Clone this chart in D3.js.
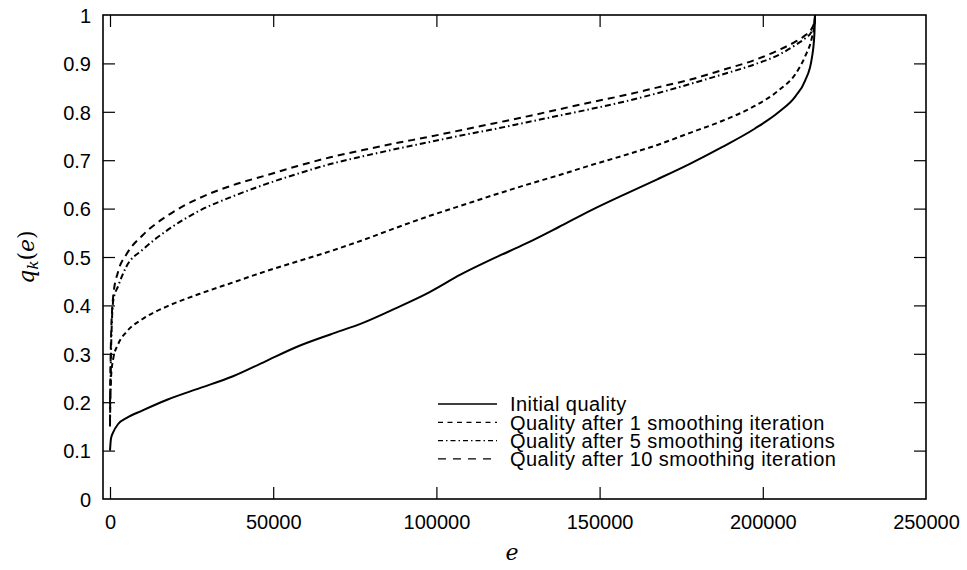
<!DOCTYPE html>
<html>
<head>
<meta charset="utf-8">
<script src="https://cdn.jsdelivr.net/npm/d3@7/dist/d3.min.js"></script>
<style>
  html, body { margin: 0; padding: 0; background: #fff; }
  svg { display: block; }
</style>
</head>
<body>
<svg id="chart" width="967" height="570"></svg>
<script>
// ---- data ----
const elementIndex = [0, 300, 1000, 2500, 5000, 10000, 17500, 27500, 37500, 47500, 57500, 67500, 77500, 87500, 97500, 107500, 117500, 127500, 137500, 147500, 157500, 167500, 177500, 187500, 197500, 205000, 210000, 213000, 215000, 215800, 216000];
const initialQuality = [0.10, 0.125, 0.138, 0.155, 0.167, 0.183, 0.205, 0.229, 0.253, 0.284, 0.315, 0.340, 0.364, 0.394, 0.426, 0.464, 0.497, 0.528, 0.562, 0.597, 0.629, 0.660, 0.692, 0.727, 0.765, 0.800, 0.832, 0.865, 0.910, 0.960, 1.0];
const qualityIter1 = [0.20, 0.25, 0.29, 0.32, 0.345, 0.372, 0.398, 0.424, 0.447, 0.470, 0.491, 0.512, 0.535, 0.560, 0.584, 0.606, 0.628, 0.649, 0.669, 0.690, 0.710, 0.731, 0.756, 0.781, 0.812, 0.845, 0.878, 0.915, 0.952, 0.980, 1.0];
const qualityIter5 = [0.15, 0.30, 0.41, 0.44, 0.48, 0.515, 0.555, 0.596, 0.625, 0.650, 0.672, 0.692, 0.708, 0.723, 0.737, 0.751, 0.764, 0.778, 0.792, 0.806, 0.821, 0.838, 0.857, 0.877, 0.898, 0.918, 0.938, 0.952, 0.966, 0.982, 1.0];
const qualityIter10 = [0.16, 0.33, 0.42, 0.47, 0.505, 0.545, 0.585, 0.622, 0.648, 0.668, 0.688, 0.706, 0.721, 0.735, 0.748, 0.762, 0.776, 0.790, 0.805, 0.820, 0.834, 0.850, 0.866, 0.886, 0.907, 0.928, 0.945, 0.958, 0.972, 0.986, 1.0];
const seriesNames = ["Initial quality", "Quality after 1 smoothing iteration", "Quality after 5 smoothing iterations", "Quality after 10 smoothing iteration"];
const xTickValues = [0, 50000, 100000, 150000, 200000, 250000];
const yTickValues = [0, 0.1, 0.2, 0.3, 0.4, 0.5, 0.6, 0.7, 0.8, 0.9, 1];

// ---- styling ----
const seriesValues = [initialQuality, qualityIter1, qualityIter5, qualityIter10];
const dashPlot = [null, "5,3.5", "6,3,1.5,3", "7,5"];
const dashLegend = [null, "5,4.5", "5,3,1.5,3", "8,7"];
const SANS = "Liberation Sans, Arial, Helvetica, sans-serif";
const SERIF = "DejaVu Serif, Liberation Serif, serif";

const svg = d3.select("#chart");
const L = 103, R = 926, T = 15, B = 499;

const x = d3.scaleLinear().domain([-2145, 250000]).range([L, R]);
const y = d3.scaleLinear().domain([0, 1]).range([B, T]);

const tickLen = 12;

// Curves
const line = d3.line()
  .x(d => x(d[0]))
  .y(d => y(d[1]))
  .curve(d3.curveMonotoneX);

seriesValues.forEach((vals, i) => {
  const pts = elementIndex.map((e, k) => [e, vals[k]]);
  svg.append("path")
    .attr("d", line(pts))
    .attr("fill", "none")
    .attr("stroke", "#000")
    .attr("stroke-width", 2)
    .attr("stroke-dasharray", dashPlot[i]);
});

// Axes (ticks inward, mirrored)
const fmtX = d3.format("d");
const fmtY = v => (v === 0 ? "0" : v === 1 ? "1" : d3.format(".1f")(v));

const gBottom = svg.append("g").attr("transform", `translate(0,${B})`)
  .call(d3.axisBottom(x).tickValues(xTickValues).tickSize(-tickLen).tickPadding(12).tickFormat(fmtX));
const gTop = svg.append("g").attr("transform", `translate(0,${T})`)
  .call(d3.axisTop(x).tickValues(xTickValues).tickSize(-tickLen).tickFormat(""));
const gLeft = svg.append("g").attr("transform", `translate(${L},0)`)
  .call(d3.axisLeft(y).tickValues(yTickValues).tickSize(-tickLen).tickPadding(12).tickFormat(fmtY));
const gRight = svg.append("g").attr("transform", `translate(${R},0)`)
  .call(d3.axisRight(y).tickValues(yTickValues).tickSize(-tickLen).tickFormat(""));

[gBottom, gTop, gLeft, gRight].forEach(g => {
  g.attr("font-family", SANS).attr("font-size", 20);
  g.select(".domain").remove();
  g.selectAll(".tick line").attr("stroke", "#000").attr("stroke-width", 1.2);
  g.selectAll(".tick text").attr("fill", "#000");
});
gBottom.selectAll(".tick text").attr("dy", "0.71em").attr("y", 16);
gLeft.selectAll(".tick text").attr("x", -12).attr("dy", "0.36em");
gTop.selectAll(".tick").filter(d => d === 250000).select("line").remove();
gBottom.selectAll(".tick").filter(d => d === 250000).select("line").remove();
gLeft.selectAll(".tick").filter(d => d === 0 || d === 1).select("line").remove();
gRight.selectAll(".tick").filter(d => d === 0 || d === 1).select("line").remove();

// Frame
svg.append("rect")
  .attr("x", L).attr("y", T).attr("width", R - L).attr("height", B - T)
  .attr("fill", "none").attr("stroke", "#000").attr("stroke-width", 1.6);

// Legend
const legX1 = 438, legX2 = 497, legTextX = 510, legY0 = 404, legDy = 18.3;
seriesNames.forEach((name, i) => {
  const yy = legY0 + i * legDy;
  svg.append("line")
    .attr("x1", legX1).attr("x2", legX2).attr("y1", yy).attr("y2", yy)
    .attr("stroke", "#000").attr("stroke-width", 1.3)
    .attr("stroke-dasharray", dashLegend[i]);
  svg.append("text")
    .attr("x", legTextX).attr("y", yy).attr("dy", "0.36em")
    .attr("font-family", SANS)
    .attr("font-size", 20)
    .attr("letter-spacing", 0.45)
    .text(name);
});

// Axis titles
svg.append("text")
  .attr("x", 512).attr("y", 560)
  .attr("text-anchor", "middle")
  .attr("font-family", SERIF)
  .attr("font-style", "italic")
  .attr("font-size", 22)
  .text("e");

const yl = svg.append("text")
  .attr("transform", "translate(34,257) rotate(-90)")
  .attr("text-anchor", "middle")
  .attr("font-family", SERIF)
  .attr("font-size", 22);
yl.append("tspan").attr("font-style", "italic").text("q");
yl.append("tspan").attr("font-style", "italic").attr("font-size", 15).attr("dy", 4).text("k");
yl.append("tspan").attr("dy", -4).text("(");
yl.append("tspan").attr("font-style", "italic").text("e");
yl.append("tspan").text(")");
</script>
</body>
</html>
